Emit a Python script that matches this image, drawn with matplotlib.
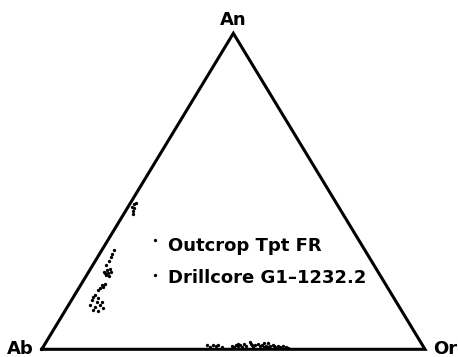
import matplotlib
matplotlib.use("Agg")
import matplotlib.pyplot as plt
import numpy as np

# Feldspar compositions, mol % (An, Or); Ab = 100 - An - Or
outcrop_an = [46.0, 46.3, 45.1, 44.6, 43.8, 42.8,
              31.4, 30.2, 29.3, 28.0, 26.7, 25.1, 24.6, 23.5, 24.1, 24.5,
              23.2, 25.5, 24.0]
outcrop_or = [1.1, 1.5, 0.9, 1.9, 1.8, 2.4,
              3.2, 3.3, 3.4, 3.5, 3.4, 4.4, 4.0, 5.0, 5.3, 5.8,
              6.0, 5.0, 4.6]

drill_an = [20.3, 19.8, 19.3, 18.8, 20.7, 20.0, 17.2, 16.6, 16.1, 15.6, 15.1,
            15.1, 14.0, 13.5, 14.0, 12.4, 12.2, 13.0,
            1.3, 0.7, 1.5, 1.0, 1.4, 0.7, 1.2, 0.7, 1.5, 0.9, 1.4, 0.7, 1.7,
            1.0, 2.2, 1.4, 0.7, 1.7, 1.0, 1.4, 0.7, 1.2, 0.7, 1.0, 1.4, 0.7,
            1.0, 0.7, 0.9, 0.6, 0.4, 1.8, 1.6, 2.0, 1.2, 1.9, 1.5]
drill_or = [5.5, 6.2, 5.6, 5.4, 6.2, 5.9, 5.3, 5.2, 6.7, 5.2, 6.8,
            8.1, 5.6, 7.2, 8.2, 7.3, 8.7, 9.6,
            42.4, 43.6, 43.9, 45.0, 45.3, 46.6, 49.0, 49.8, 49.9, 50.8, 51.0,
            51.9, 52.0, 52.8, 53.2, 54.2, 54.8, 55.6, 56.4, 56.8, 57.6, 57.9,
            58.7, 59.1, 59.6, 60.5, 61.1, 61.8, 62.5, 63.4, 64.1, 50.2, 53.8,
            57.0, 60.0, 58.2, 55.0]

apex_labels = ["Ab", "Or", "An"]
series_labels = ["Outcrop Tpt FR", "Drillcore G1\u20131232.2"]

H = np.sqrt(3) / 2


def to_xy(an, orth):
    """Ternary (An, Or) in percent -> cartesian with Ab-Or along the base."""
    an = np.asarray(an, dtype=float) / 100.0
    orth = np.asarray(orth, dtype=float) / 100.0
    return orth + an / 2.0, an * H


W, HT = 458, 357
fig = plt.figure(figsize=(W / 100, HT / 100), dpi=100)
ax = fig.add_axes([41.7 / W, 7.7 / HT, 383.3 / W, 316 / HT])
ax.set_xlim(0, 1)
ax.set_ylim(0, H)
ax.axis("off")

font = dict(family="DejaVu Sans", weight="bold", size=13)

# triangle frame
fx, fy = to_xy([0, 0, 100, 0], [0, 100, 0, 0])
ax.plot(fx, fy, color="black", lw=2.2, clip_on=False,
        solid_joinstyle="miter")

# apex labels
base_y = (349.3 - 354.0) / 316 * H
ax.text(-0.056, base_y, apex_labels[0], ha="center", va="baseline", **font)
ax.text(1.052, base_y, apex_labels[1], ha="center", va="baseline", **font)
ax.text(0.5, 1.0263 * H, apex_labels[2], ha="center", va="baseline", **font)

# data
for an, orth in ((outcrop_an, outcrop_or), (drill_an, drill_or)):
    x, y = to_xy(an, orth)
    ax.plot(x, y, "o", color="black", ms=2.4, mew=0, clip_on=False)

# key
for (mx, my), (tx, ty), label in zip([(155, 239.5), (155, 275)],
                                     [(168, 250.7), (168, 283.3)],
                                     series_labels):
    fig.lines.append(plt.Line2D([mx / W], [1 - my / HT], marker="o",
                                ms=2.4, mew=0, color="black",
                                transform=fig.transFigure))
    fig.text(tx / W, 1 - ty / HT, label, ha="left", va="baseline", **font)

fig.savefig("out.png", dpi=100)
